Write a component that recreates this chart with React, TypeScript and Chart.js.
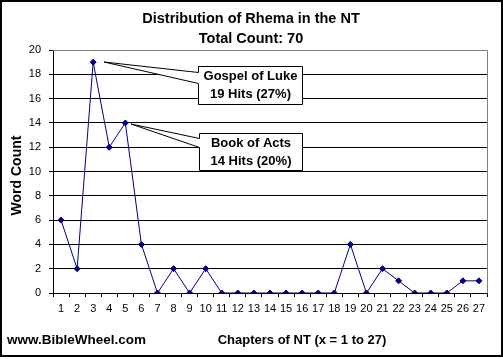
import React, { useEffect, useRef } from "react";
import { Chart, registerables } from "chart.js";

Chart.register(...registerables);

const chapters = ["1","2","3","4","5","6","7","8","9","10","11","12","13","14","15","16","17","18","19","20","21","22","23","24","25","26","27"];
const wordCounts = [6, 2, 19, 12, 14, 4, 0, 2, 0, 2, 0, 0, 0, 0, 0, 0, 0, 0, 4, 0, 2, 1, 0, 0, 0, 1, 1];
const titleLines = ["Distribution of Rhema in the NT", "Total Count: 70"];
const yTitle = "Word Count";
const xTitle = "Chapters of NT (x = 1 to 27)";
const siteLabel = "www.BibleWheel.com";
const callouts = [
  { index: 2, lines: ["Gospel of Luke", "19 Hits (27%)"], dx: 105, dy: 4, w: 104, h: 38, ax: 11, ay: 0, w1: 6, w2: 17 },
  { index: 4, lines: ["Book of Acts", "14 Hits (20%)"], dx: 74, dy: 10, w: 103, h: 37, ax: 6, ay: 1, w1: 5, w2: 14 },
];

const FONT = '"Liberation Sans", Arial, sans-serif';

const decorPlugin = {
  id: "decor",
  afterDatasetsDraw(chart: any) {
    const ctx = chart.ctx;
    const ca = chart.chartArea;
    ctx.save();
    // plot gray border top/right
    ctx.strokeStyle = "#808080";
    ctx.lineWidth = 1;
    ctx.beginPath();
    ctx.moveTo(ca.left, ca.top + 0.5);
    ctx.lineTo(ca.right + 0.5, ca.top + 0.5);
    ctx.lineTo(ca.right + 0.5, ca.bottom);
    ctx.stroke();

    // callouts
    const meta = chart.getDatasetMeta(0);
    ctx.font = "bold 13px " + FONT;
    ctx.textAlign = "center";
    ctx.textBaseline = "middle";
    for (const c of callouts) {
      const p = meta.data[c.index];
      const px = Math.round(p.x), py = Math.round(p.y);
      const bx = px + c.dx + 0.5, by = py + c.dy + 0.5;
      const apx = px + c.ax, apy = py + c.ay;
      ctx.beginPath();
      ctx.moveTo(bx, by);
      ctx.lineTo(bx + c.w, by);
      ctx.lineTo(bx + c.w, by + c.h);
      ctx.lineTo(bx, by + c.h);
      ctx.lineTo(bx, by + c.w2);
      ctx.lineTo(apx, apy);
      ctx.lineTo(bx, by + c.w1);
      ctx.closePath();
      ctx.fillStyle = "#fff";
      ctx.fill();
      ctx.strokeStyle = "#000";
      ctx.lineWidth = 1;
      ctx.stroke();
      ctx.fillStyle = "#000";
      ctx.fillText(c.lines[0], bx + c.w / 2, by + c.h / 2 - 9);
      ctx.fillText(c.lines[1], bx + c.w / 2, by + c.h / 2 + 9);
    }
    ctx.restore();
  },
  afterDraw(chart: any) {
    const ctx = chart.ctx;
    const ca = chart.chartArea;
    ctx.save();
    ctx.fillStyle = "#000";
    ctx.textBaseline = "middle";
    ctx.textAlign = "center";
    ctx.font = "bold 14.5px " + FONT;
    ctx.fillText(titleLines[0], 251, 19);
    ctx.fillText(titleLines[1], 251, 39);
    ctx.font = "bold 13px " + FONT;
    ctx.fillText(xTitle, 302, 340);
    ctx.textAlign = "left";
    ctx.font = "bold 13.5px " + FONT;
    ctx.fillText(siteLabel, 7, 340);
    ctx.save();
    ctx.translate(17, (ca.top + ca.bottom) / 2 + 4);
    ctx.rotate(-Math.PI / 2);
    ctx.textAlign = "center";
    ctx.font = "bold 14px " + FONT;
    ctx.fillText(yTitle, 0, 0);
    ctx.restore();
    // outer border
    ctx.strokeStyle = "#000";
    ctx.lineWidth = 2;
    ctx.strokeRect(1, 1, 501, 355);
    ctx.restore();
  },
};

export default function App() {
  const ref = useRef<HTMLCanvasElement>(null);
  useEffect(() => {
    document.body.style.margin = "0";
    const chart = new Chart(ref.current!, {
      type: "line",
      data: {
        labels: chapters,
        datasets: [
          {
            data: wordCounts,
            borderColor: "#000080",
            backgroundColor: "#000080",
            borderWidth: 1,
            pointStyle: "rectRot",
            pointRadius: 3,
            pointBorderWidth: 1,
            pointBackgroundColor: "#000080",
            pointBorderColor: "#000080",
            tension: 0,
            fill: false,
          },
        ],
      },
      options: {
        responsive: false,
        animation: false,
        events: [],
        layout: { padding: { left: 8, top: 50, right: 16, bottom: 0 } },
        plugins: { legend: { display: false }, tooltip: { enabled: false }, title: { display: false } },
        scales: {
          x: {
            offset: true,
            grid: { offset: true, drawOnChartArea: false, drawTicks: true, tickLength: 4, color: "#000", lineWidth: 1 },
            border: { display: true, color: "#000", width: 1 },
            ticks: { color: "#000", font: { family: FONT, size: 11 }, padding: 5, maxRotation: 0, autoSkip: false },
            afterFit: (s: any) => { s.height = 66; },
          },
          y: {
            min: 0,
            max: 20,
            ticks: { stepSize: 2, color: "#000", font: { family: FONT, size: 11 }, padding: 8 },
            grid: {
              color: (c: any) => (c.tick && c.tick.value === 20 ? "#808080" : "#000"),
              tickColor: "#000",
              lineWidth: 1,
              tickLength: 4,
              drawTicks: true,
            },
            border: { display: true, color: "#000", width: 1 },
            afterFit: (s: any) => { s.width = 45; },
          },
        },
      },
      plugins: [decorPlugin],
    });
    return () => chart.destroy();
  }, []);
  return <canvas ref={ref} width={503} height={359} style={{ display: "block", width: 503, height: 359 }} />;
}
